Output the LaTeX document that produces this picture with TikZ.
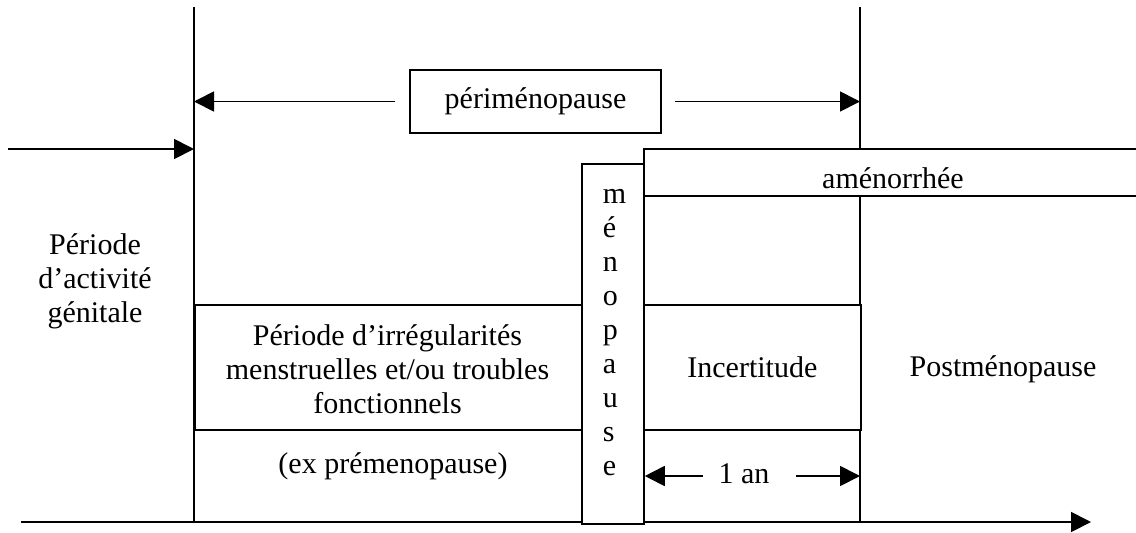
\documentclass[tikz,border=0pt]{standalone}
\usepackage{fontspec}
\setmainfont{Liberation Serif}
\usetikzlibrary{arrows.meta}
\begin{document}
\begin{tikzpicture}[x=0.5pt,y=-0.5pt, line width=0.9pt,
  arr/.style={-{Triangle[length=10pt,width=10pt]}},
  box/.style={draw, inner sep=0pt, fill=white},
  txt/.style={font=\fontsize{15}{17}\selectfont, inner sep=0pt, align=center}]
\useasboundingbox (0,0) rectangle (1136,532);
% guide coordinates
\coordinate (Ltop) at (194,7);
\coordinate (Lbot) at (194,522);
\coordinate (Rtop) at (860,7);
\coordinate (Rbot) at (860,522);
\coordinate (axS) at (21,522);
\coordinate (axE) at (1091,522);
\coordinate (inS) at (8,149);
% main vertical lines and time axis
\draw (Ltop) -- (Lbot);
\draw (Rtop) -- (Rbot);
\draw[arr] (axS) -- (axE);
\draw[arr] (inS) -- (inS -| Ltop);
% perimenopause
\node[box, txt, draw, minimum width=125.5pt, minimum height=31.5pt] (peri) at (535.5,101.5) {périménopause};
\draw[arr] ([xshift=-7pt]peri.west) -- (peri.west -| Ltop);
\draw[arr] ([xshift=6.5pt]peri.east) -- (peri.east -| Rtop);
% amenorrhee band
\node[box, minimum width=248.5pt, minimum height=23.5pt, anchor=north west] (amen) at (643,148) {};
\node[txt, anchor=base] (amentxt) at (893,188) {aménorrhée};
% menopause column
\node[box, minimum width=31pt, minimum height=180pt, anchor=north west] (meno) at (581,163) {};
\foreach \l [count=\i from 0] in {m,é,n,o,p,a,u,s,e}{
  \node[txt, anchor=base west] (ml\i) at (602,203+34*\i) {\l};
}
% left period
\node[txt] (gen) at (95,281) {Période\\d’activité\\génitale};
% irregularities
\node[box, minimum width=193.5pt, minimum height=62.5pt, anchor=north west] (irr) at (194,304) {};
\node[txt] (irrtxt) at (387.5,369.5) {Période d’irrégularités\\menstruelles et/ou troubles\\fonctionnels};
\node[txt, anchor=base] (expre) at (393,473) {(ex prémenopause)};
% incertitude
\node[box, txt, minimum width=108.5pt, minimum height=62.5pt, anchor=north west] (inc) at (643,304) {Incertitude};
% one year
\node[txt, anchor=base] (an) at (744,483) {1 an};
\coordinate (anL) at (703,476);
\coordinate (anR) at (796,476);
\draw[arr] (anL) -- (anL -| meno.east);
\draw[arr] (anR) -- (anR -| Rtop);
% postmenopause
\node[txt, anchor=base] (post) at (1003,376) {Postménopause};
\end{tikzpicture}
\end{document}
